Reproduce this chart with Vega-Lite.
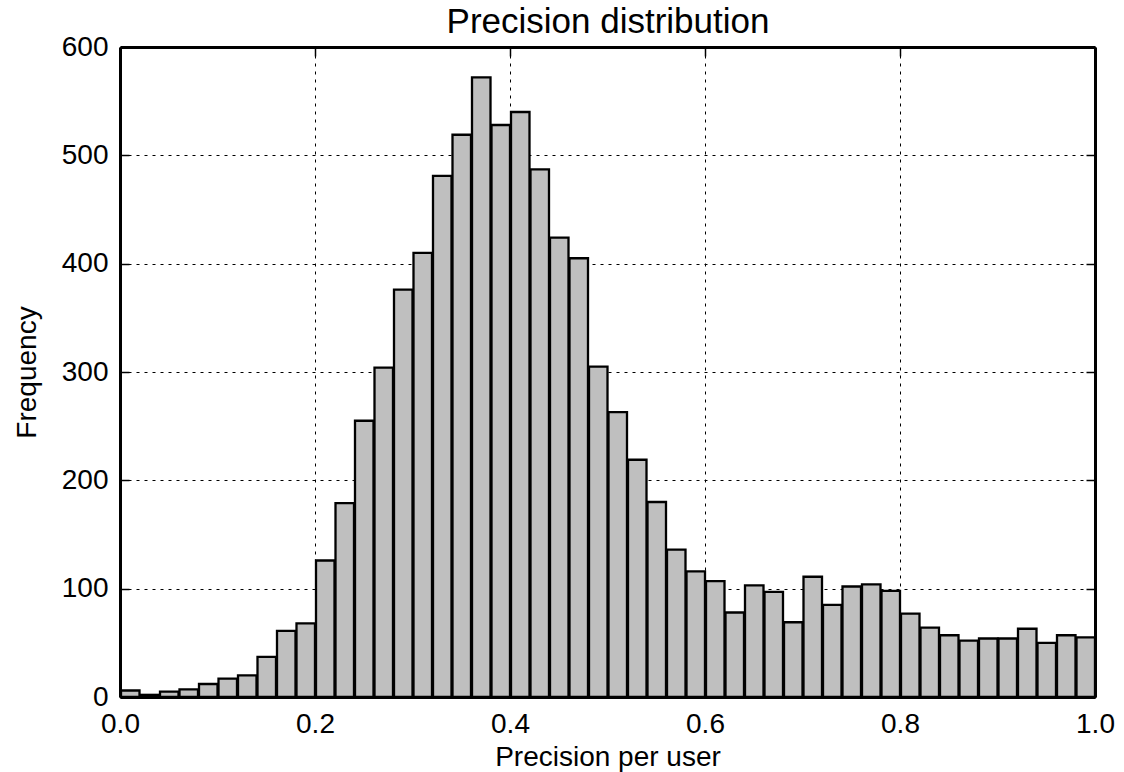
{
  "$schema": "https://vega.github.io/schema/vega-lite/v6.json",
  "width": 975,
  "height": 650,
  "autosize": {"type": "none"},
  "padding": {"left": 120, "top": 47, "right": 29, "bottom": 75},
  "background": "white",
  "config": {
    "view": {"stroke": null},
    "axis": {
      "labelFont": "Liberation Sans", "titleFont": "Liberation Sans",
      "labelFontSize": 28, "titleFontSize": 28, "titleFontWeight": "normal",
      "labelColor": "black", "titleColor": "black",
      "domainColor": "black", "domainWidth": 3,
      "tickColor": "black", "tickWidth": 1.5, "tickSize": -9,
      "gridColor": "black", "gridWidth": 1, "gridDash": [3, 5], "gridOpacity": 1,
      "labelFlush": false, "labelOverlap": false, "zindex": 1
    }
  },
  "data": {"values": [
    {"x0": 0.00, "x1": 0.02, "count": 6},
    {"x0": 0.02, "x1": 0.04, "count": 2},
    {"x0": 0.04, "x1": 0.06, "count": 5},
    {"x0": 0.06, "x1": 0.08, "count": 7},
    {"x0": 0.08, "x1": 0.10, "count": 12},
    {"x0": 0.10, "x1": 0.12, "count": 17},
    {"x0": 0.12, "x1": 0.14, "count": 20},
    {"x0": 0.14, "x1": 0.16, "count": 37},
    {"x0": 0.16, "x1": 0.18, "count": 61},
    {"x0": 0.18, "x1": 0.20, "count": 68},
    {"x0": 0.20, "x1": 0.22, "count": 126},
    {"x0": 0.22, "x1": 0.24, "count": 179},
    {"x0": 0.24, "x1": 0.26, "count": 255},
    {"x0": 0.26, "x1": 0.28, "count": 304},
    {"x0": 0.28, "x1": 0.30, "count": 376},
    {"x0": 0.30, "x1": 0.32, "count": 410},
    {"x0": 0.32, "x1": 0.34, "count": 481},
    {"x0": 0.34, "x1": 0.36, "count": 519},
    {"x0": 0.36, "x1": 0.38, "count": 572},
    {"x0": 0.38, "x1": 0.40, "count": 528},
    {"x0": 0.40, "x1": 0.42, "count": 540},
    {"x0": 0.42, "x1": 0.44, "count": 487},
    {"x0": 0.44, "x1": 0.46, "count": 424},
    {"x0": 0.46, "x1": 0.48, "count": 405},
    {"x0": 0.48, "x1": 0.50, "count": 305},
    {"x0": 0.50, "x1": 0.52, "count": 263},
    {"x0": 0.52, "x1": 0.54, "count": 219},
    {"x0": 0.54, "x1": 0.56, "count": 180},
    {"x0": 0.56, "x1": 0.58, "count": 136},
    {"x0": 0.58, "x1": 0.60, "count": 116},
    {"x0": 0.60, "x1": 0.62, "count": 107},
    {"x0": 0.62, "x1": 0.64, "count": 78},
    {"x0": 0.64, "x1": 0.66, "count": 103},
    {"x0": 0.66, "x1": 0.68, "count": 97},
    {"x0": 0.68, "x1": 0.70, "count": 69},
    {"x0": 0.70, "x1": 0.72, "count": 111},
    {"x0": 0.72, "x1": 0.74, "count": 85},
    {"x0": 0.74, "x1": 0.76, "count": 102},
    {"x0": 0.76, "x1": 0.78, "count": 104},
    {"x0": 0.78, "x1": 0.80, "count": 98},
    {"x0": 0.80, "x1": 0.82, "count": 77},
    {"x0": 0.82, "x1": 0.84, "count": 64},
    {"x0": 0.84, "x1": 0.86, "count": 57},
    {"x0": 0.86, "x1": 0.88, "count": 52},
    {"x0": 0.88, "x1": 0.90, "count": 54},
    {"x0": 0.90, "x1": 0.92, "count": 54},
    {"x0": 0.92, "x1": 0.94, "count": 63},
    {"x0": 0.94, "x1": 0.96, "count": 50},
    {"x0": 0.96, "x1": 0.98, "count": 57},
    {"x0": 0.98, "x1": 1.00, "count": 55}
  ]},
  "layer": [
    {
      "mark": {"type": "bar", "fill": "#bfbfbf", "stroke": "black", "strokeWidth": 2.3},
      "encoding": {
        "x": {"field": "x0", "type": "quantitative", "bin": "binned",
              "scale": {"domain": [0, 1], "nice": false},
              "axis": {"orient": "bottom", "grid": true, "title": "Precision per user", "values": [0, 0.2, 0.4, 0.6, 0.8, 1.0], "format": ".1f", "labelPadding": 22, "titlePadding": 5}},
        "x2": {"field": "x1"},
        "y": {"field": "count", "type": "quantitative",
              "scale": {"domain": [0, 600], "nice": false},
              "axis": {"orient": "left", "grid": true, "title": "Frequency", "values": [0, 100, 200, 300, 400, 500, 600], "format": "d", "labelPadding": 21, "titlePadding": 20}}
      }
    },
    {
      "mark": {"type": "bar", "opacity": 0},
      "encoding": {
        "x": {"field": "x0", "type": "quantitative", "bin": "binned",
              "axis": {"orient": "top", "title": "Precision distribution", "titleFontSize": 35, "titleBaseline": "alphabetic", "titlePadding": 14, "labels": false, "grid": false, "values": [0, 0.2, 0.4, 0.6, 0.8, 1.0]}},
        "x2": {"field": "x1"},
        "y": {"field": "count", "type": "quantitative",
              "axis": {"orient": "right", "title": null, "labels": false, "grid": false, "values": [0, 100, 200, 300, 400, 500, 600]}}
      }
    }
  ],
  "resolve": {"axis": {"x": "independent", "y": "independent"}}
}
